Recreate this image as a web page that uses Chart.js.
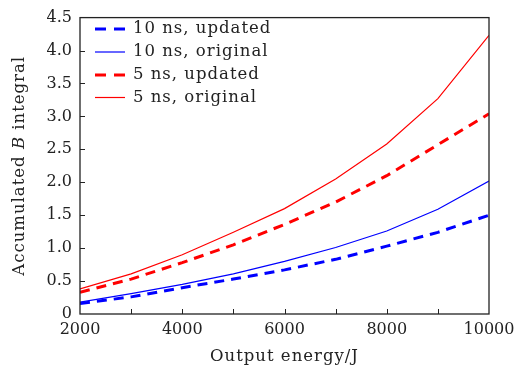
<!DOCTYPE html>
<html>
<head>
<meta charset="utf-8">
<script src="https://cdn.jsdelivr.net/npm/chart.js@4.4.0/dist/chart.umd.min.js"></script>
<style>
  html, body { margin: 0; padding: 0; background: #fff; }
  canvas { display: block; }
</style>
</head>
<body>
<canvas id="chart" width="531" height="374"></canvas>
<script>
// values
const energies = [2000, 3000, 4000, 5000, 6000, 7000, 8000, 9000, 10000];
const ns10Updated = [0.16, 0.26, 0.40, 0.53, 0.67, 0.83, 1.03, 1.24, 1.50];
const ns10Original = [0.18, 0.31, 0.45, 0.61, 0.80, 1.01, 1.26, 1.59, 2.02];
const ns5Updated = [0.33, 0.53, 0.78, 1.05, 1.36, 1.70, 2.10, 2.57, 3.04];
const ns5Original = [0.38, 0.61, 0.90, 1.24, 1.60, 2.05, 2.58, 3.27, 4.23];

const FONT = '"DejaVu Serif", serif';

function toPoints(arr) {
    return energies.map((e, i) => ({ x: e, y: arr[i] }));
}

const series = [
    { label: '10 ns, updated', data: ns10Updated, color: '#0000ff', dashed: true },
    { label: '10 ns, original', data: ns10Original, color: '#0000ff', dashed: false },
    { label: '5 ns, updated', data: ns5Updated, color: '#ff0000', dashed: true },
    { label: '5 ns, original', data: ns5Original, color: '#ff0000', dashed: false }
];

const DASH = [10, 7];

// ticks, frame, legend and axis titles
const decorPlugin = {
    id: 'decor',
    afterDraw(chart) {
        const ctx = chart.ctx;
        const area = chart.chartArea;
        const xs = chart.scales.x;
        const ys = chart.scales.y;
        ctx.save();

        // inward tick marks
        ctx.strokeStyle = '#222';
        ctx.lineWidth = 1;
        ctx.beginPath();
        for (let v = 3000; v < 10000; v += 1000) {
            const px = Math.round(xs.getPixelForValue(v)) + 0.5;
            ctx.moveTo(px, area.bottom);
            ctx.lineTo(px, area.bottom - 5);
        }
        for (let v = 0.5; v < 4.5; v += 0.5) {
            const py = Math.round(ys.getPixelForValue(v)) + 0.5;
            ctx.moveTo(area.left, py);
            ctx.lineTo(area.left + 5, py);
        }
        ctx.stroke();

        // frame
        ctx.lineWidth = 1.3;
        ctx.strokeStyle = '#222';
        ctx.strokeRect(area.left, area.top, area.right - area.left, area.bottom - area.top);

        // legend
        ctx.font = '16.5px ' + FONT;
        ctx.letterSpacing = '1px';
        ctx.textBaseline = 'middle';
        ctx.fillStyle = '#222';
        const rows = [29, 52, 75, 97.5];
        series.forEach((s, i) => {
            const y = rows[i];
            ctx.beginPath();
            ctx.strokeStyle = s.color;
            ctx.lineWidth = s.dashed ? 3 : 1.2;
            ctx.setLineDash(s.dashed ? [11, 8] : []);
            ctx.moveTo(95, y);
            ctx.lineTo(125, y);
            ctx.stroke();
            ctx.setLineDash([]);
            ctx.fillText(s.label, 133, y);
        });

        // x axis title
        ctx.textAlign = 'center';
        ctx.fillText('Output energy/J', (area.left + area.right) / 2, 357);

        // y axis title with italic B
        const parts = [
            { t: 'Accumulated ', f: '16.5px ' + FONT },
            { t: 'B', f: 'italic 16.5px ' + FONT },
            { t: ' integral', f: '16.5px ' + FONT }
        ];
        let total = 0;
        parts.forEach(p => { ctx.font = p.f; p.w = ctx.measureText(p.t).width; total += p.w; });
        ctx.translate(20, (area.top + area.bottom) / 2);
        ctx.rotate(-Math.PI / 2);
        ctx.textAlign = 'left';
        let x = -total / 2;
        parts.forEach(p => { ctx.font = p.f; ctx.fillText(p.t, x, 0); x += p.w; });

        ctx.restore();
    }
};

new Chart(document.getElementById('chart'), {
    type: 'line',
    data: {
        datasets: series.map(s => ({
            label: s.label,
            data: toPoints(s.data),
            borderColor: s.color,
            backgroundColor: s.color,
            borderWidth: s.dashed ? 3 : 1.2,
            borderDash: s.dashed ? DASH : [],
            pointRadius: 0,
            fill: false,
            tension: 0
        }))
    },
    options: {
        responsive: false,
        animation: false,
        devicePixelRatio: 1,
        layout: { padding: { left: 0, right: 42, top: 13, bottom: 0 } },
        plugins: {
            legend: { display: false },
            tooltip: { enabled: false }
        },
        scales: {
            x: {
                type: 'linear',
                min: 2000,
                max: 10000,
                grid: { display: false, drawTicks: false },
                border: { display: false },
                ticks: {
                    stepSize: 2000,
                    color: '#222',
                    font: { family: FONT, size: 16 },
                    padding: 6,
                    maxRotation: 0,
                    callback: v => String(v)
                },
                afterFit: scale => { scale.height = 60; }
            },
            y: {
                min: 0,
                max: 4.5,
                grid: { display: false, drawTicks: false },
                border: { display: false },
                ticks: {
                    stepSize: 0.5,
                    color: '#222',
                    font: { family: FONT, size: 16 },
                    padding: 8,
                    callback: v => (v === 0 ? '0' : v.toFixed(1))
                },
                afterFit: scale => { scale.width = 80; }
            }
        }
    },
    plugins: [decorPlugin]
});
</script>
</body>
</html>
